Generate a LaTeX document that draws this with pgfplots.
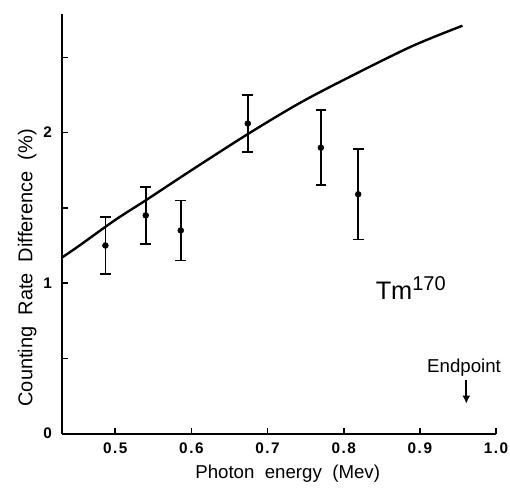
\documentclass[border=0pt]{standalone}
\usepackage{fontspec}
\setmainfont{Liberation Sans}
\newfontfamily\tickfont[LetterSpace=10]{Liberation Sans}
\usepackage{pgfplots}
\pgfplotsset{compat=1.18}
\usetikzlibrary{arrows.meta}
\newcommand\tk[1]{\mbox{\tickfont\bfseries\fontsize{11.5}{13}\selectfont #1}}
\begin{document}
\begin{tikzpicture}
\useasboundingbox (-46.5pt,-40.5pt) rectangle (336pt,325.25pt);
\begin{axis}[scale only axis,width=325.5pt,height=315pt,
  xmin=0.43,xmax=1.0,ymin=0,ymax=2.79,
  axis lines=left,axis line style={-,line width=1.6pt},
  xtick={0.5,0.6,0.7,0.8,0.9,1.0},
  xticklabels={\tk{0.5},\tk{0.6},\tk{0.7},\tk{0.8},\tk{0.9},\tk{1.0}},
  ytick={0,0.5,1,1.5,2,2.5},yticklabels={\tk{0},,\tk{1},,\tk{2},},
  tick align=inside,major tick length=4.5pt,tick style={line width=1.2pt,black},
  xticklabel style={yshift=-3pt},
  yticklabel style={xshift=-4pt},
  xlabel={Photon~~energy~~(Mev)},
  ylabel={Counting~~Rate~~Difference~~(\%)},
  xlabel style={font=\fontsize{14}{16}\selectfont,
    at={(axis description cs:0.52,0)},anchor=north,yshift=-20pt},
  ylabel style={font=\fontsize{15}{17}\selectfont,
    at={(axis description cs:-0.048,0.395)},anchor=south},
  clip=false]
\addplot[black,line width=1.8pt,smooth] coordinates {
(0.430,1.17) (0.453,1.25) (0.50,1.42) (0.54,1.55) (0.60,1.75) (0.674,1.99)
(0.74,2.19) (0.80,2.35) (0.888,2.57) (0.956,2.71)
};
\addplot[black,only marks,mark=*,mark size=2.2pt,
  error bars/.cd,y dir=both,y explicit,
  error bar style={line width=1.2pt},
  error mark options={rotate=90,mark size=4pt,line width=1.2pt}] coordinates {
(0.487,1.25) +- (0,0.19)
(0.540,1.45) +- (0,0.19)
(0.586,1.35) +- (0,0.20)
(0.674,2.06) +- (0,0.19)
(0.770,1.90) +- (0,0.25)
(0.819,1.59) +- (0,0.30)
};
\node[font=\fontsize{19}{22}\selectfont] at (axis cs:0.888,0.97)
  {Tm\raisebox{6.6pt}{\fontsize{15}{15}\selectfont 170}};
\node[font=\fontsize{14}{16}\selectfont] at (axis cs:0.958,0.44) {Endpoint};
\draw[-{Latex[length=6pt,width=6pt]},line width=1.4pt] (axis cs:0.961,0.354) -- (axis cs:0.961,0.20);
\end{axis}
\end{tikzpicture}
\end{document}
